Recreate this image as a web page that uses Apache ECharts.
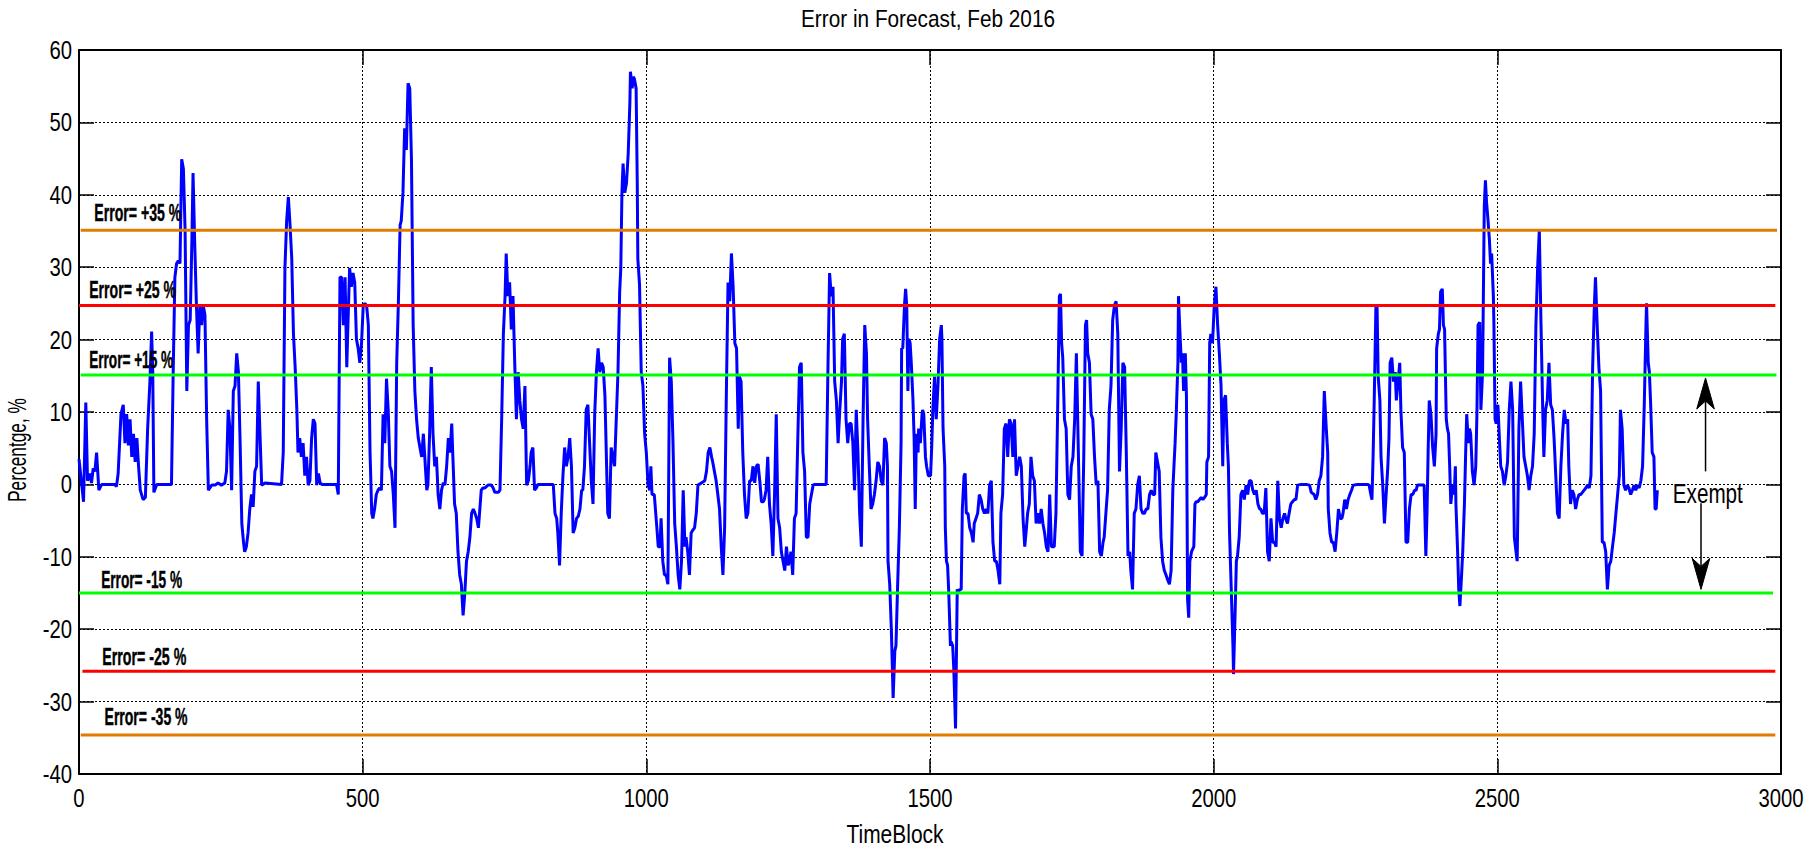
<!DOCTYPE html>
<html>
<head>
<meta charset="utf-8">
<script src="https://cdn.jsdelivr.net/npm/echarts@6/dist/echarts.min.js"></script>
<style>
html,body{margin:0;padding:0;background:#ffffff;}
#chart{width:1820px;height:847px;}
</style>
</head>
<body>
<div id="chart"></div>
<script>
// ---------------- DATA ----------------
const chartTitle = 'Error in Forecast, Feb 2016';
const xAxisName = 'TimeBlock';
const yAxisName = 'Percentge, %';
const xTicks = [0, 500, 1000, 1500, 2000, 2500, 3000];
const yTicks = [-40, -30, -20, -10, 0, 10, 20, 30, 40, 50, 60];
const xTickLabels = ['0', '500', '1000', '1500', '2000', '2500', '3000'];
const yTickLabels = ['-40', '-30', '-20', '-10', '0', '10', '20', '30', '40', '50', '60'];

// [TimeBlock, error %]
const errorPart1 = [[0,3.5],[8,-2.4],[12,11.3],[15,0.5],[19,1.5],[22,0.2],[25,2.2],[28,1.8],[31,4.4],[35,-0.8],[40,0],[63,0],[66,-0.3],[69,1.5],[74,9.7],[78,11],[81,5.7],[84,9.7],[87,5.4],[90,9],[93,3.8],[96,7],[99,3.1],[102,6.4],[105,2.5],[108,-0.8],[113,-2.1],[117,-1.8],[121,7.7],[125,14.2],[128,21.1],[130,15.5],[132,-1.1],[137,0],[163,0],[166,15.5],[169,28.6],[172,30.5],[175,30.9],[178,30.5],[181,44.9],[184,43.6],[187,35.1],[190,12.9],[193,22],[196,22.7],[199,33.8],[201,43],[204,33.2],[207,24.7],[210,18.1],[213,24.7],[216,22],[219,24.7],[222,23.4],[225,9],[228,-0.8],[234,-0.1],[240,-0.1],[245,0.2],[251,-0.1],[257,0.2],[260,1.8],[263,10.3],[266,7.7],[269,-0.8],[272,12.9],[275,13.6],[278,18.1],[281,15.5],[284,5.7],[287,-5.4],[290,-8],[292,-9.3],[295,-8.6],[298,-6.7],[301,-3.4],[304,-1.4],[307,-3.1],[310,1.8],[313,2.5],[316,14.2],[319,7],[322,-0.1],[328,0.2],[357,0],[360,4.4],[363,29.9],[366,36.4],[369,39.7],[372,35.8],[375,31.2],[378,20.8],[381,16.2],[384,10.3],[386,4.4],[389,6.4],[392,3.8],[395,5.7],[398,1.2],[401,3.8],[404,-0.1],[407,0.5],[410,6.4],[413,9],[416,8.4],[419,-0.1],[422,1.5],[425,0.2],[428,0],[454,0],[457,-1.4],[460,28.6],[463,28.6],[466,22]];
const errorPart2 = [[469,28.6],[472,16.2],[474,22],[477,29.9],[480,27.3],[483,29.2],[486,27.9],[489,20.1],[492,18.8],[495,16.8],[498,19.5],[501,24.7],[504,25],[507,24.7],[510,22],[513,4.4],[516,-4],[518,-4.7],[521,-3.4],[524,-1.4],[527,-0.8],[530,-0.5],[533,-0.8],[536,9.7],[539,5.7],[542,14.6],[545,10.3],[548,2.5],[551,1.8],[554,-1.4],[557,-6],[560,16.8],[563,25.3],[566,35.8],[568,36.4],[571,40.3],[574,49.2],[577,46.2],[580,55.4],[583,54.7],[586,44.9],[589,22],[592,12.9],[595,9],[598,6.4],[601,5.1],[604,3.8],[607,7],[610,3.1],[613,-0.8],[615,-0.1],[618,7],[621,16.2],[624,7],[627,2.5],[630,3.8],[633,-1.4],[636,-3.4],[639,-0.8],[642,0.2],[645,-0.1],[648,2.5],[651,6.4],[654,4.4],[657,8.4],[659,3.8],[662,-2.7],[665,-4],[668,-9.3],[671,-12.5],[674,-13.8],[677,-18.1],[680,-15.1],[683,-10.6],[686,-9.3],[689,-7.3],[692,-4],[695,-3.4],[698,-4],[701,-4.7],[704,-6],[706,-4],[709,-0.8],[712,-0.5],[715,-0.5],[721,-0.1],[727,-0.1],[730,-0.5],[733,-1.1],[739,-1.1],[742,-0.8],[745,9],[748,20.8],[751,26],[753,31.9],[756,26],[759,27.9],[762,21.4],[765,26],[768,16.8],[771,9],[774,15.5],[777,11.6],[780,9],[783,7.7],[786,13.6],[789,-0.1],[792,0.5],[795,2.5],[797,4.4],[800,5.1],[803,-0.8],[806,-0.5],[809,0],[836,0],[839,-4],[842,-4.7],[844,-6.7],[847,-11.2],[850,-4],[853,1.2],[856,5.1],[859,2.5],[862,3.8],[865,6.4],[868,2.5],[871,-6.7],[874,-6],[877,-4.7],[880,-4.4],[883,-3.4],[886,-0.8],[888,-0.8],[891,2.5],[894,10.3],[897,11],[900,5.7],[903,0.5],[906,-2.7],[909,9.7],[912,15.5],[915,18.8],[918,15.5],[921,16.8],[924,16.2],[927,12.3],[930,2.5],[932,-4],[935,-4.7],[938,5.1],[941,3.8]];
const errorPart3 = [[944,2.5],[947,9],[950,15.5],[953,26.6],[955,29.9],[957,40.3],[959,44.3],[962,40.3],[965,41.6],[968,45.6],[971,52.7],[972,57],[975,54.7],[977,56.3],[979,56],[982,54.7],[984,41.6],[985,31.2],[988,27.6],[991,15.5],[994,13.6],[997,7],[1000,4.4],[1003,-0.1],[1006,-0.8],[1008,2.5],[1010,-1.4],[1014,-1.4],[1018,-5.4],[1021,-8.6],[1024,-8.6],[1026,-4.7],[1029,-10.6],[1032,-12.5],[1035,-12.5],[1038,-13.8],[1041,17.5],[1044,14.2],[1047,5.7],[1050,-5.4],[1053,-8.6],[1056,-12.5],[1059,-14.5],[1062,-10.6],[1065,-0.8],[1068,-8.6],[1070,-7.3],[1073,-9.3],[1076,-12.5],[1079,-6.7],[1082,-6.3],[1085,-6],[1088,-4],[1091,-0.1],[1097,0.2],[1103,0.5],[1106,1.8],[1109,4.4],[1112,5.1],[1115,3.8],[1117,3.1],[1120,1.8],[1123,0.5],[1126,-1.4],[1129,-3.4],[1132,-8.6],[1135,-12.5],[1138,-6],[1141,12.3],[1144,27.9],[1147,25.3],[1150,31.9],[1153,27.3],[1156,19.5],[1159,18.8],[1162,7.7],[1164,14.9],[1167,14.2],[1170,4.4],[1173,-1.4],[1176,-4.7],[1179,-4],[1182,0.5],[1185,0.5],[1188,2.5],[1191,0.2],[1194,2.5],[1197,2.8],[1200,0.5],[1203,-2.4],[1206,-2.4],[1208,-2.1],[1211,-0.8],[1214,3.8],[1217,-2.7],[1220,-5.4],[1223,-9.9],[1226,-1.4],[1229,9.7],[1232,-4.7],[1235,-6],[1238,-9.3],[1241,-10.6],[1244,-11.9],[1247,-8.6],[1250,-11.2],[1252,-10.6],[1255,-9.3],[1258,-12.5],[1261,-4.7],[1264,-4],[1267,6.4],[1270,16.2],[1273,16.8],[1276,4.4],[1279,1.8],[1282,-7.3],[1285,-7.3],[1288,-2.7],[1291,-1.4],[1294,-0.1],[1297,0],[1317,0],[1320,15.5],[1323,29.2],[1326,26],[1329,27.3],[1332,14.2],[1335,11.6],[1338,5.7],[1341,10.3],[1344,14.2],[1346,20.1],[1349,20.8],[1352,9],[1355,5.7],[1358,8.4],[1361,8.4],[1364,5.7],[1367,-0.8],[1370,10.3],[1373,4.4],[1376,-4],[1379,-8.6],[1382,9],[1385,22],[1388,18.1],[1390,9],[1393,2.5],[1396,-3.4],[1399,-2.7],[1402,-1.4],[1405,0.5],[1408,3.1],[1411,2.5],[1414,0.5],[1417,-0.1]];
const errorPart4 = [[1420,6.4],[1423,5.7],[1425,2.5],[1426,-10.6],[1429,-13.8],[1432,-20.4],[1435,-29.5],[1438,-23],[1440,-22.3],[1443,-13.8],[1446,-6],[1449,5.7],[1450,18.8],[1452,18.8],[1455,24.7],[1457,27],[1459,24.7],[1461,12.9],[1463,20.1],[1465,19.5],[1467,16.8],[1470,11.6],[1472,6.4],[1474,-3.4],[1476,7],[1479,4.4],[1480,7.7],[1483,5.7],[1486,9.7],[1487,10.3],[1489,9.7],[1492,3.8],[1494,2.5],[1497,1.2],[1501,1.2],[1503,5.1],[1505,10.3],[1508,14.9],[1511,9],[1514,13.6],[1517,20.1],[1520,22],[1521,20.1],[1523,7.7],[1526,2.5],[1527,-6],[1529,-10.6],[1531,-11.2],[1533,-14.8],[1536,-22.3],[1537,-21.7],[1540,-22.3],[1542,-25.6],[1545,-33.7],[1548,-14.5],[1550,-14.8],[1553,-14.5],[1555,-14.5],[1557,-3.4],[1560,1.2],[1562,1.5],[1564,-4],[1567,-4],[1570,-6],[1573,-6.7],[1576,-8],[1578,-5.4],[1581,-4.7],[1584,-4],[1587,-1.4],[1590,-2.1],[1593,-3.4],[1596,-4],[1599,-3.4],[1602,-4],[1605,-0.1],[1608,0.5],[1611,-8],[1614,-10.6],[1617,-10.6],[1620,-11.9],[1623,-13.8],[1625,-4],[1628,-1.4],[1631,7.7],[1634,8.4],[1637,3.8],[1640,9],[1643,8.4],[1646,3.8],[1649,9],[1652,1.2],[1655,2.5],[1658,3.8],[1661,2.5],[1664,-4.7],[1667,-8.6],[1670,-6],[1672,-4],[1675,-2.7],[1678,3.8],[1681,1.2],[1684,0.5],[1687,-5.4],[1690,-4],[1693,-5.4],[1696,-3.4],[1699,-5.4],[1702,-6.7],[1705,-8.6],[1708,-9.3],[1711,-1.4],[1714,-8.6],[1716,-8.6],[1719,-8.6],[1722,-4],[1725,10.3],[1728,26],[1730,26.3],[1732,19.5],[1734,17.5],[1737,9],[1740,7.7],[1743,-1.4],[1746,-2.1],[1749,2.5],[1752,3.8],[1755,9],[1758,18.1],[1759,18.1],[1762,2.5],[1765,-9.3],[1768,-9.9],[1771,3.8],[1774,22],[1776,22.7],[1778,18.1],[1781,16.8],[1784,9.7],[1787,9],[1790,3.8],[1793,-0.1],[1796,0.5],[1799,-9.3],[1802,-9.9],[1805,-8],[1807,-7.3],[1810,-4],[1813,-0.8],[1816,10.3],[1819,13.6],[1822,22.7],[1825,24.7],[1828,25.3],[1831,20.8],[1834,1.8],[1837,7.7],[1840,16.8],[1843,16.2],[1846,4.4],[1849,-9.9],[1852,-9.3],[1854,-11.9],[1857,-14.5],[1860,-4],[1863,-3.4],[1866,-0.1],[1869,1.2],[1872,-3.4],[1875,-4],[1878,-4],[1881,-3.4],[1884,-3.4],[1887,-1.4],[1890,-0.8],[1893,-1.4]];
const errorPart5 = [[1896,-1.4],[1898,4.4],[1901,3.1],[1904,1.8],[1907,-7.3],[1910,-10.6],[1913,-11.9],[1916,-12.5],[1919,-13.2],[1922,-13.8],[1925,-11.9],[1928,-0.8],[1930,2.5],[1932,5.7],[1934,9.7],[1937,16.8],[1938,26],[1940,22],[1943,16.8],[1945,18.1],[1947,12.9],[1950,18.1],[1952,12.3],[1954,-15.8],[1956,-18.4],[1958,-10.6],[1961,-9.3],[1965,-8.6],[1967,-2.7],[1969,-2.4],[1972,-2.4],[1978,-1.8],[1981,-2.1],[1984,-1.8],[1987,-1.4],[1988,3.1],[1991,3.8],[1993,19.5],[1995,20.8],[1998,19.5],[2001,24.7],[2004,27.3],[2007,22],[2010,18.1],[2013,13.6],[2016,2.5],[2018,11.6],[2021,12.3],[2024,5.7],[2026,2.5],[2028,-6.7],[2031,-14.5],[2034,-22.3],[2035,-26.2],[2038,-17.1],[2040,-10.6],[2042,-9.9],[2045,-7.3],[2048,-1.4],[2051,-0.8],[2054,-2.1],[2057,-0.1],[2060,-1.4],[2063,0.5],[2066,0.5],[2069,-0.8],[2072,-1.4],[2075,-0.8],[2078,-2.7],[2081,-3.4],[2083,-3.4],[2086,-4],[2089,-4],[2092,-0.5],[2095,-9.3],[2098,-10.6],[2101,-4.7],[2104,-8],[2107,-8],[2110,-8.6],[2113,0.5],[2116,-4.7],[2119,-6],[2122,-4.7],[2125,-4],[2127,-4.7],[2130,-5.4],[2133,-4],[2136,-2.7],[2139,-2.4],[2142,-2.1],[2145,-2.1],[2148,-0.1],[2154,0],[2163,0],[2169,-0.1],[2172,-1.1],[2177,-1.4],[2180,-2.1],[2183,-1.4],[2186,0.5],[2189,1.2],[2192,3.8],[2195,12.9],[2198,8.4],[2201,4.4],[2202,-3.4],[2205,-6.7],[2208,-8],[2211,-8],[2214,-9.3],[2217,-6.7],[2220,-3.4],[2223,-4.7],[2226,-4.7],[2228,-4],[2231,-2.1],[2234,-3.4],[2237,-2.1],[2240,-1.4],[2243,-0.8],[2246,-0.1],[2254,0],[2271,0],[2274,-0.1],[2277,-1.4],[2279,-2.1],[2281,3.8],[2283,11.6],[2286,24.7],[2288,24.7],[2290,14.9],[2293,11.6],[2295,3.8],[2298,-0.1],[2301,-5.4],[2304,-1.4],[2307,2.5],[2309,6.4],[2311,16.8],[2314,17.5],[2317,14.2],[2320,15.5],[2322,11.6],[2325,14.2],[2328,16.8],[2330,10.3],[2333,5.1],[2336,4.4],[2339,-8],[2342,-8],[2345,-3.4],[2348,-1.4],[2351,-1.4],[2354,-0.8],[2357,-0.8],[2359,-0.1],[2365,-0.1]];
const errorPart6 = [[2371,-0.1],[2374,-9.9],[2376,-4],[2378,4.4],[2380,11.6],[2383,9.7],[2386,5.1],[2389,2.5],[2392,7],[2393,18.8],[2396,20.8],[2398,21.4],[2400,26.6],[2403,27],[2405,22],[2407,21.4],[2410,9],[2412,7.7],[2414,7],[2416,2.5],[2418,-2.7],[2421,-0.1],[2424,-1.4],[2426,2.5],[2427,-2.7],[2430,-9.3],[2432,-14.5],[2434,-16.8],[2437,-12.5],[2439,-9.3],[2442,-2.7],[2444,3.8],[2446,9.7],[2449,5.7],[2451,7.7],[2453,7],[2456,1.8],[2459,-0.1],[2462,2.5],[2464,9.7],[2466,22],[2469,22.4],[2471,10.3],[2474,15.5],[2477,38.4],[2479,42],[2481,39],[2483,37.1],[2486,33.8],[2488,30.5],[2490,31.9],[2493,26],[2494,22],[2496,9],[2498,8.4],[2501,11],[2504,5.7],[2506,2.5],[2509,1.8],[2512,-0.1],[2515,1.2],[2518,3.1],[2521,10.3],[2524,14.2],[2527,10.3],[2530,-7.3],[2533,-9.3],[2535,-10.6],[2538,7.7],[2541,14.2],[2544,9],[2547,3.8],[2550,2.5],[2553,1.2],[2556,-0.8],[2559,1.2],[2562,2.5],[2565,7],[2568,22],[2571,29.9],[2574,35.1],[2577,22],[2580,10.3],[2582,3.8],[2585,10.3],[2588,11.6],[2591,16.8],[2594,11],[2597,10.3],[2600,6.4],[2603,1.2],[2606,-4],[2609,-4.7],[2612,2.5],[2615,7],[2618,10.3],[2621,8.4],[2624,9],[2626,2.5],[2629,-2.7],[2632,-0.8],[2635,-1.4],[2638,-3.4],[2641,-2.1],[2644,-1.4],[2647,-1.4],[2650,-1.1],[2653,-0.8],[2656,-0.5],[2659,-0.1],[2662,-0.5],[2665,1.2],[2668,16.2],[2671,24.7],[2673,28.6],[2676,22],[2679,16.2],[2682,12.9],[2685,-8],[2688,-8],[2691,-9.3],[2694,-14.5],[2697,-11.2],[2700,-10.6],[2703,-8.6],[2706,-6.7],[2709,-4],[2712,-1.4],[2715,1.2],[2717,10.3],[2720,7.7],[2723,-0.1],[2726,-0.8],[2729,-0.1],[2732,-0.5],[2735,-1.4],[2738,-0.8],[2741,-0.1],[2744,-0.8],[2747,-0.1],[2750,-0.5],[2753,0.5],[2756,2.5],[2759,11],[2762,22],[2763,25],[2766,16.8],[2768,15.5],[2770,11.6],[2773,4.4],[2776,3.8],[2778,-3.4],[2780,-3.4],[2782,-0.8]];

// threshold lines
const thresholdValues = [35.1, 24.7, 15.1, -15.0, -25.8, -34.6];
const thresholdStart  = [3, 0, 3, 0, 6, 3];
const thresholdEnd    = [2993, 2990, 2992, 2986, 2990, 2990];
const thresholdLabels = ['Error= +35 %', 'Error= +25 %', 'Error= +15 %', 'Error= -15 %', 'Error= -25 %', 'Error= -35 %'];
const exemptLabel = 'Exempt';

// ---------------- LAYOUT / STYLE ----------------
const thresholdColors = ['#DE7D00', '#FF0000', '#00FF00', '#00FF00', '#FF0000', '#DE7D00'];
const labelAnchorX = [27, 18, 18, 39, 41, 45];
const labelAnchorY = [37.4, 26.8, 17.2, -13.2, -23.8, -32.1];
const labelWidths  = [87, 87, 84, 81, 84, 83];
const exemptAnchor = [2871, -1.3];
const upArrow   = {x: 2867, from: 1.8, to: 14.7};
const downArrow = {x: 2859, from: -2.6, to: -14.5};

const BASE = "'Liberation Sans', Arial, sans-serif";
const TICK_FS = 26, TICK_SX = 0.78;

const errorData = [].concat(errorPart1, errorPart2, errorPart3, errorPart4, errorPart5, errorPart6);

const gridLine = {show: true, lineStyle: {color: '#000', width: 1, type: [2, 2]}};
const axisLineStyle = {show: true, onZero: false, lineStyle: {color: '#000', width: 2}};
const tickStyle = {show: true, inside: true, length: 15, lineStyle: {color: '#000', width: 1.5}};

const series = [{
  type: 'line', name: 'error', data: errorData, showSymbol: false, symbol: 'none',
  lineStyle: {color: '#0000FF', width: 3}, z: 3, animation: false, silent: true
}];
thresholdValues.forEach((v, i) => {
  series.push({
    type: 'line', data: [[thresholdStart[i], v], [thresholdEnd[i], v]],
    showSymbol: false, symbol: 'none', lineStyle: {color: thresholdColors[i], width: 3},
    z: 4, animation: false, silent: true
  });
});

function valueAxis(pos, ticks, main) {
  return {
    type: 'value', min: ticks[0], max: ticks[ticks.length - 1], interval: ticks[1] - ticks[0],
    position: pos, axisLine: axisLineStyle, axisTick: tickStyle,
    axisLabel: {show: false}, splitLine: main ? gridLine : {show: false}
  };
}

const option = {
  animation: false,
  backgroundColor: '#ffffff',
  grid: {left: 79, top: 50, width: 1702, height: 724, containLabel: false, outerBoundsMode: 'none'},
  xAxis: [valueAxis('bottom', xTicks, true), valueAxis('top', xTicks, false)],
  yAxis: [valueAxis('left', yTicks, true), valueAxis('right', yTicks, false)],
  series: series
};

const chart = echarts.init(document.getElementById('chart'), null, {renderer: 'svg'});
chart.setOption(option);

// ---------------- TEXTS & ANNOTATIONS ----------------
const mctx = document.createElement('canvas').getContext('2d');
function textWidth(text, font) { mctx.font = font; return mctx.measureText(text).width; }
function toPx(x, y) { return chart.convertToPixel({xAxisIndex: 0, yAxisIndex: 0}, [x, y]); }

const graphics = [];
function addText(t, x, y, o) {
  const fs = o.fontSize, fw = o.fontWeight || 'normal';
  const sx = o.width ? o.width / textWidth(t, fw + ' ' + fs + 'px ' + BASE) : (o.scaleX || 1);
  graphics.push({
    type: 'text', x: x, y: y, scaleX: sx, rotation: o.rotation || 0, z: 10,
    style: {text: t, fontSize: fs, fontWeight: fw, fontFamily: BASE, fill: '#000',
            stroke: o.stroke || null, lineWidth: o.stroke ? 0.4 : 0,
            align: o.align || 'left', verticalAlign: 'middle'}
  });
}
const plotBottom = toPx(xTicks[0], yTicks[0])[1];
const plotLeft = toPx(xTicks[0], yTicks[0])[0];
xTicks.forEach((v, i) => {
  addText(xTickLabels[i], toPx(v, yTicks[0])[0], plotBottom + 24, {fontSize: TICK_FS, scaleX: TICK_SX, align: 'center'});
});
yTicks.forEach((v, i) => {
  addText(yTickLabels[i], plotLeft - 7, toPx(xTicks[0], v)[1], {fontSize: TICK_FS, scaleX: TICK_SX, align: 'right'});
});
addText(chartTitle, 928, 19, {fontSize: 24, width: 254, align: 'center'});
addText(xAxisName, 895, 834, {fontSize: 26, width: 97, align: 'center'});
addText(yAxisName, 18, 450, {fontSize: 25, width: 104, align: 'center', rotation: Math.PI / 2});
thresholdLabels.forEach((t, i) => {
  const p = toPx(labelAnchorX[i], labelAnchorY[i]);
  addText(t, p[0], p[1], {fontSize: 23, fontWeight: 'bold', width: labelWidths[i], stroke: '#000'});
});
(function () {
  const p = toPx(exemptAnchor[0], exemptAnchor[1]);
  addText(exemptLabel, p[0], p[1], {fontSize: 27, width: 70, align: 'center'});
})();
function arrow(a) {
  const p0 = toPx(a.x, a.from), p1 = toPx(a.x, a.to);
  const dir = p1[1] < p0[1] ? 1 : -1;
  const L = 31, W = 8.8, notch = 23;
  graphics.push({type: 'line', z: 10, shape: {x1: p0[0], y1: p0[1], x2: p1[0], y2: p1[1] + dir * notch},
    style: {stroke: '#000', lineWidth: 1.5}});
  graphics.push({type: 'polygon', z: 10, shape: {points: [
      [p1[0], p1[1]], [p1[0] - W, p1[1] + dir * L], [p1[0], p1[1] + dir * notch], [p1[0] + W, p1[1] + dir * L]]},
    style: {fill: '#000', stroke: '#000', lineWidth: 1}});
}
arrow(upArrow);
arrow(downArrow);
chart.setOption({graphic: graphics});
</script>
</body>
</html>
